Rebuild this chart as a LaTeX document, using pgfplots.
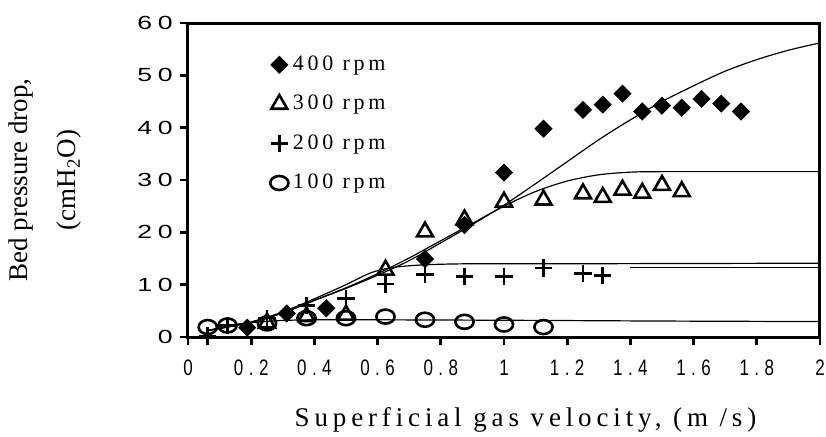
\documentclass[border=0pt]{standalone}
\usepackage{pgfplots}
\pgfplotsset{compat=1.18}
\usepackage{fontspec}
\setmainfont{Liberation Serif}
\newfontfamily\lsserif[LetterSpace=18]{Liberation Serif}
\newfontfamily\legfont[LetterSpace=17]{Liberation Serif}
\newfontfamily\ytickfont[LetterSpace=21]{Liberation Sans}
\newfontfamily\xtickfont[LetterSpace=32]{Liberation Sans}

\pgfplotstableread{
x y
0.1875 1.8
0.3125 4.5
0.4375 5.5
0.75 14.9
0.875 21.4
1.0 31.4
1.125 39.8
1.25 43.4
1.3125 44.4
1.375 46.5
1.4375 43.1
1.5 44.2
1.5625 43.8
1.625 45.5
1.6875 44.6
1.75 43.1
}\rpmA
\pgfplotstableread{
x y
0.25 2.7
0.375 3.9
0.5 4.2
0.625 12.8
0.75 20.1
0.875 22.4
1.0 25.8
1.125 26.2
1.25 27.4
1.3125 26.7
1.375 28.1
1.4375 27.5
1.5 29.0
1.5625 27.8
}\rpmB
\pgfplotstableread{
x y
0.0625 0.2
0.125 2.2
0.25 3.6
0.375 6.0
0.5 7.4
0.625 10.1
0.75 11.9
0.875 11.6
1.0 11.6
1.125 13.2
1.25 12.1
1.3125 11.7
}\rpmC
\pgfplotstableread{
x y
0.0625 1.9
0.125 2.2
0.25 2.6
0.375 3.6
0.5 3.6
0.625 3.9
0.75 3.3
0.875 2.9
1.0 2.4
1.125 1.9
}\rpmD

\begin{document}
\begin{tikzpicture}
\begin{axis}[
  at={(94pt,49.5pt)}, anchor=south west,
  scale only axis, width=316pt, height=157pt,
  xmin=0, xmax=2, ymin=0, ymax=60,
  xtick={0,0.2,0.4,0.6,0.8,1,1.2,1.4,1.6,1.8,2},
  xticklabels={0,0.2,0.4,0.6,0.8,1,1.2,1.4,1.6,1.8,2},
  ytick={0,10,20,30,40,50,60},
  yticklabels={0,10,20,30,40,50,60},
  tick align=outside, xtick pos=bottom, ytick pos=left,
  major tick length=4pt,
  every tick/.style={black, line width=1.4pt},
  axis line style={line width=1.5pt},
  xticklabel style={font=\xtickfont, anchor=north, yshift=-3.5pt, xscale=0.85, yscale=1.12, transform shape},
  yticklabel style={font=\ytickfont, anchor=east, xshift=1pt, xscale=1.33, yscale=0.95, transform shape},
  xlabel={Superficial gas velocity, (m /s)},
  xlabel style={font=\lsserif, at={(axis description cs:0.534,-0.2866)}, anchor=base, scale=1.35, transform shape},
  ylabel={Bed pressure drop,\\[9pt](cmH\textsubscript{2}O)},
  ylabel style={font=\fontsize{13.5}{15}\selectfont, align=center, at={(axis description cs:-0.2263,0.5)}, anchor=center},
  clip=false,
  legend cell align=left,
  legend style={at={(axis description cs:0.12,0.93)}, anchor=north west, draw=none, fill=none,
    font=\legfont,
    nodes={text height=7.5pt, text depth=2.5pt, inner sep=2pt, scale=1.1, transform shape}, row sep=4.3pt},
  legend image code/.code={\draw[#1] plot coordinates {(0.25cm,0cm)};},
]
% model curves
\addplot[black, line width=0.6pt, smooth, forget plot] coordinates {
(0.06,1.2)(0.2,2.8)(0.3,4.6)(0.4,7)(0.5,9.3)(0.6,11.8)(0.7,14.6)(0.8,18)(0.9,21.5)(1.0,25.2)(1.1,29.3)(1.2,33.5)(1.3,37.7)(1.4,41.5)(1.5,45)(1.6,48)(1.7,50.8)(1.8,53)(1.9,54.8)(2.0,56.2)};
\addplot[black, line width=0.6pt, smooth, forget plot] coordinates {
(0.06,1.2)(0.2,2.8)(0.3,4.6)(0.4,7)(0.5,9.4)(0.6,12.1)(0.7,15.1)(0.8,18.4)(0.9,21.7)(1.0,25)(1.1,27.8)(1.2,29.8)(1.3,31)(1.4,31.5)(1.5,31.6)(1.7,31.6)(2.0,31.6)};
\addplot[black, line width=0.6pt, smooth, forget plot] coordinates {
(0.06,1.2)(0.2,2.9)(0.3,4.8)(0.4,7.3)(0.5,10)(0.58,12.3)(0.65,13.3)(0.75,13.8)(0.9,14)(1.2,14)(1.6,14.05)(2.0,14.1)};
\addplot[black, line width=0.5pt, forget plot] coordinates {(1.4,13.3)(2.0,13.3)};
\addplot[black, line width=0.6pt, smooth, forget plot] coordinates {
(0.06,1.2)(0.15,2.4)(0.25,3.0)(0.35,3.25)(0.5,3.3)(1.0,3.2)(1.5,3.05)(2.0,2.95)};
% data
\addplot[only marks, mark=square*, mark size=3pt, mark options={rotate=45, fill=black, draw=black}] table {\rpmA};
\addlegendentry{400 rpm}
\addplot[only marks, mark=triangle, mark size=4.6pt, mark options={line width=1.3pt, draw=black}] table {\rpmB};
\addlegendentry{300 rpm}
\addplot[only marks, mark=+, mark size=4.3pt, mark options={line width=1.3pt, draw=black}] table {\rpmC};
\addlegendentry{200 rpm}
\addplot[only marks, mark=o, mark size=3.5pt, mark options={xscale=1.3, line width=1.3pt, draw=black}] table {\rpmD};
\addlegendentry{100 rpm}
\end{axis}
\pgfresetboundingbox
\useasboundingbox (0,0) rectangle (413pt,218pt);
\end{tikzpicture}
\end{document}
